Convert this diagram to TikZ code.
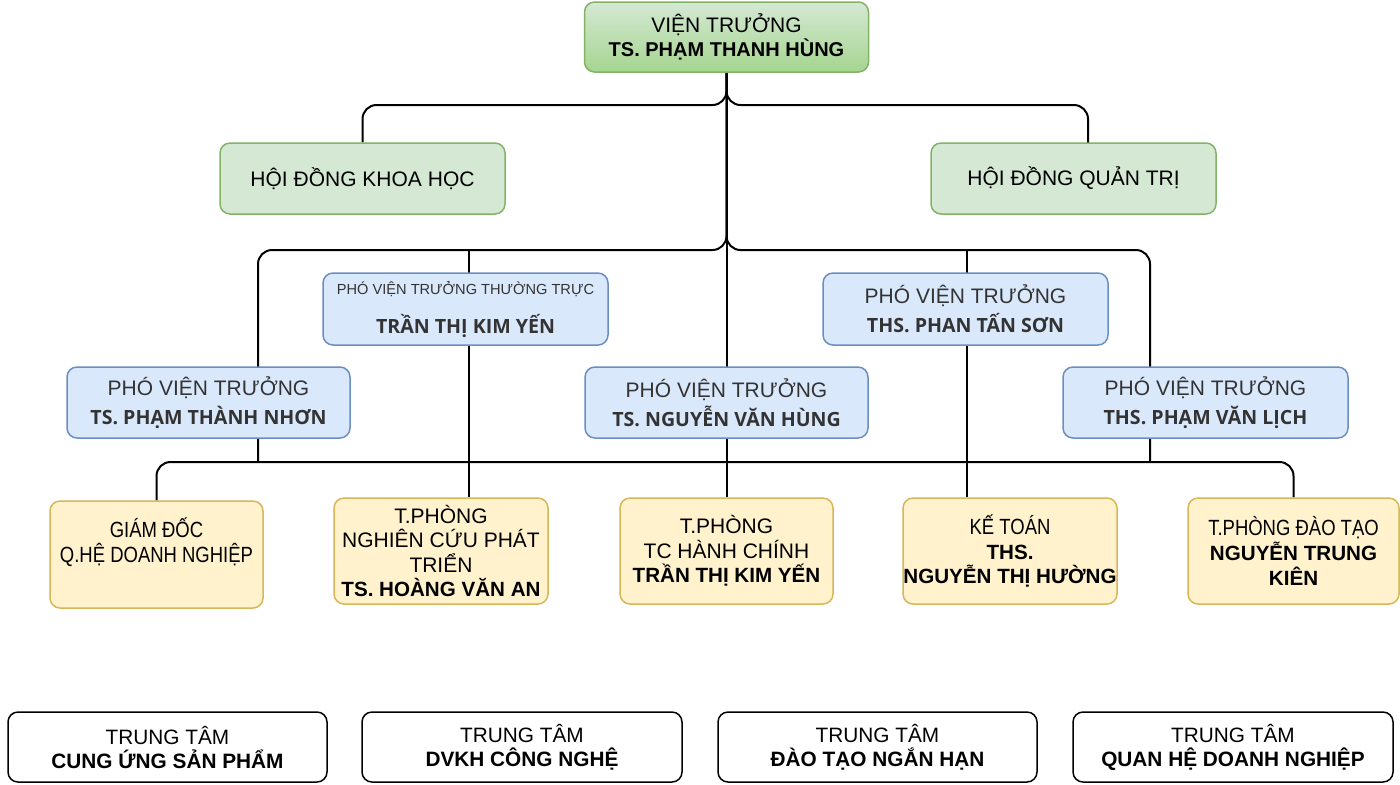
\documentclass[tikz,border=0pt]{standalone}
\usepackage{fontspec}
\setmainfont{Liberation Sans}
\newfontfamily\opensans{Open Sans}
\newfontfamily\narrowsf[FakeStretch=0.84]{Liberation Sans}
\usetikzlibrary{backgrounds}
\definecolor{grnfill}{HTML}{D5E8D4}
\definecolor{grndark}{HTML}{A5D58F}
\definecolor{grnline}{HTML}{82B366}
\definecolor{bluefill}{HTML}{DAE8FC}
\definecolor{blueline}{HTML}{6C8EBF}
\definecolor{yelfill}{HTML}{FFF2CC}
\definecolor{yelline}{HTML}{D6B656}
\definecolor{txtgray}{HTML}{333333}
% one box: style, name, centre, width, height, text
\newcommand\obox[6]{
  \node[#1, minimum width=#4*0.5pt, minimum height=#5*0.5pt] (#2) at (#3) {#6};
}
\tikzset{
  box/.style={rounded corners=5pt, line width=0.75pt, align=center, inner sep=0pt},
  topbox/.style={box, draw=grnline, top color=grnfill, bottom color=grndark, font=\fontsize{10.5}{12}\selectfont},
  grnbox/.style={box, draw=grnline, fill=grnfill, font=\fontsize{10.5}{12}\selectfont},
  pvtbox/.style={box, draw=blueline, fill=bluefill, text=txtgray, font=\fontsize{10.5}{14.5}\selectfont},
  phbox/.style={box, draw=yelline, fill=yelfill, font=\narrowsf\fontsize{11}{12.3}\selectfont},
  ttbox/.style={box, draw=black, fill=white, font=\fontsize{10.4}{12}\selectfont},
  conn/.style={line width=1pt, rounded corners=7pt}
}
\newcommand\nm[1]{{\opensans\bfseries\fontsize{9.8}{14.5}\selectfont #1}}
\newcommand\bnm[1]{{\rmfamily\bfseries\fontsize{10.3}{12.3}\selectfont #1}}
\newcommand\wide[1]{{\rmfamily\fontsize{10.5}{12.3}\selectfont #1}}
\begin{document}
\begin{tikzpicture}[x=0.5pt, y=-0.5pt]
\useasboundingbox (0,0) rectangle (1400,784);

\obox{topbox}{vt}{726.5,37}{284}{70}{VIỆN TRƯỞNG\\{\bfseries\fontsize{10}{12}\selectfont TS. PHẠM THANH HÙNG}}
\obox{grnbox}{hdkh}{362.5,178.5}{285}{71}{HỘI ĐỒNG KHOA HỌC}
\obox{grnbox}{hdqt}{1073.5,178.5}{285}{71}{HỘI ĐỒNG QUẢN TRỊ}

\obox{pvtbox}{pky}{465.5,309}{285}{72}{{\fontsize{7.3}{12}\selectfont PHÓ VIỆN TRƯỞNG THƯỜNG TRỰC}\\[5pt]\nm{TRẦN THỊ KIM YẾN}}
\obox{pvtbox}{pson}{965.5,309}{285}{72}{PHÓ VIỆN TRƯỞNG\\\nm{THS. PHAN TẤN SƠN}}
\obox{pvtbox}{pnhon}{208.5,402.5}{283}{71}{PHÓ VIỆN TRƯỞNG\\\nm{TS. PHẠM THÀNH NHƠN}}
\obox{pvtbox}{phung}{726.5,402.5}{283}{71}{PHÓ VIỆN TRƯỞNG\\\nm{TS. NGUYỄN VĂN HÙNG}}
\obox{pvtbox}{plich}{1205.5,402.5}{285}{71}{PHÓ VIỆN TRƯỞNG\\\nm{THS. PHẠM VĂN LỊCH}}

\obox{phbox}{gd}{156.5,554.5}{213}{107}{GIÁM ĐỐC\\Q.HỆ DOANH NGHIỆP\\[2pt]}
\obox{phbox}{ncpt}{441,551}{214}{106}{\wide{T.PHÒNG}\\\wide{NGHIÊN CỨU PHÁT}\\\wide{TRIỂN}\\\bnm{TS. HOÀNG VĂN AN}}
\obox{phbox}{tc}{726.5,551}{213}{106}{\wide{T.PHÒNG}\\\wide{TC HÀNH CHÍNH}\\\bnm{TRẦN THỊ KIM YẾN}}
\obox{phbox}{kt}{1010,551}{214}{106}{KẾ TOÁN\\\bnm{THS.}\\\bnm{NGUYỄN THỊ HƯỜNG}}
\obox{phbox}{dt}{1293.5,551}{211}{106}{T.PHÒNG ĐÀO TẠO\\\bnm{NGUYỄN TRUNG}\\\bnm{KIÊN}}

\obox{ttbox}{tt1}{167.5,747}{319}{70}{TRUNG TÂM\\\textbf{CUNG ỨNG SẢN PHẨM}}
\obox{ttbox}{tt2}{522,747}{320}{70}{TRUNG TÂM\\\textbf{DVKH CÔNG NGHỆ}}
\obox{ttbox}{tt3}{877.5,747}{319}{70}{TRUNG TÂM\\\textbf{ĐÀO TẠO NGẮN HẠN}}
\obox{ttbox}{tt4}{1233,747}{320}{70}{TRUNG TÂM\\\textbf{QUAN HỆ DOANH NGHIỆP}}

\coordinate (bus1) at (726.5,105);
\coordinate (bus2) at (726.5,250);
\coordinate (bus3) at (726.5,462);
\coordinate (qtleg) at (1088,143);
\coordinate (nhonleg) at (258,462);
\coordinate (lichleg) at (1150,462);
\coordinate (kyleg) at (469,250);
\coordinate (sonleg) at (967,250);

% lines run behind the boxes
\begin{scope}[on background layer]
\draw[conn] (vt.south) -- (tc.north);
\draw[conn] (vt.south) -- (bus1) -| (hdkh.north);
\draw[conn] (vt.south) -- (bus1) -| (qtleg);
\draw[conn] (vt.south) -- (bus2) -| (nhonleg);
\draw[conn] (vt.south) -- (bus2) -| (lichleg);
\draw[conn] (kyleg) -- (kyleg |- ncpt.north);
\draw[conn] (sonleg) -- (sonleg |- kt.north);
\draw[conn] (gd.north) |- (dt.north |- bus3) -- (dt.north);
\end{scope}
\end{tikzpicture}
\end{document}
